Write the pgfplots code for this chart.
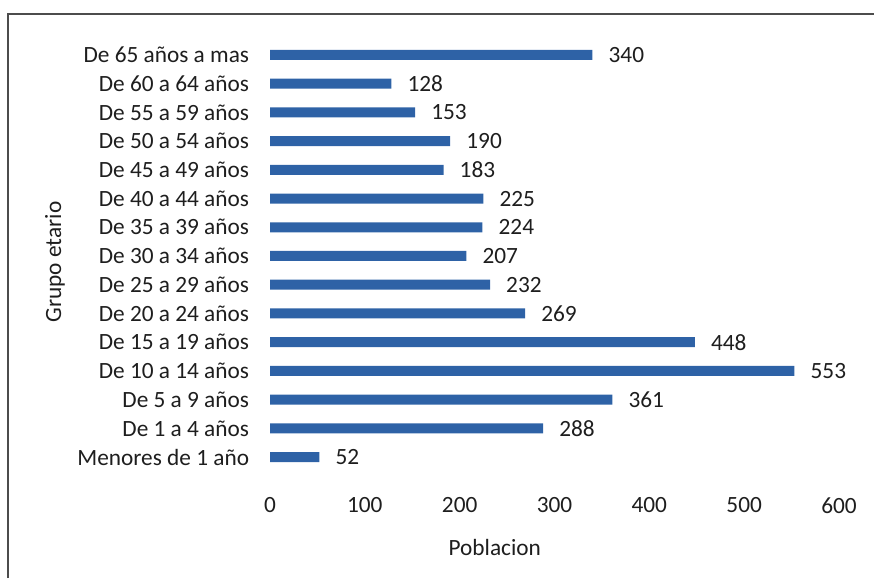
\documentclass[border=0pt]{standalone}
\usepackage{fontspec}
\setmainfont{Carlito}
\usepackage{pgfplots}
\pgfplotsset{compat=1.18}
\definecolor{barblue}{HTML}{2E62A6}
\definecolor{txt}{HTML}{1E1E1E}
\newcommand{\lblfont}{\fontsize{23.3}{27}\selectfont}
\begin{document}
\lblfont
\begin{tikzpicture}[x=1pt,y=1pt]
\useasboundingbox (0,0) rectangle (874,578);
\draw[line width=2pt, black!70] (8,0) -- (8,564) -- (874,564);
\begin{axis}[
  at={(270pt,106.6pt)}, anchor=south west,
  scale only axis, width=569pt, height=430.8pt,
  xbar, bar width=10pt,
  xmin=0, xmax=600, ymin=-0.5, ymax=14.5,
  xtick={0,100,...,600},
  ytick={0,...,14},
  yticklabels={Menores de 1 año, De 1 a 4 años, De 5 a 9 años, De 10 a 14 años,
    De 15 a 19 años, De 20 a 24 años, De 25 a 29 años, De 30 a 34 años,
    De 35 a 39 años, De 40 a 44 años, De 45 a 49 años, De 50 a 54 años,
    De 55 a 59 años, De 60 a 64 años, De 65 años a mas},
  axis line style={draw=none},
  major tick length=0pt,
  tick label style={font=\lblfont, text=txt},
  /pgf/number format/assume math mode=true,
  xticklabel style={yshift=-18pt},
  yticklabel style={xshift=-13pt},
  xlabel={Poblacion}, ylabel={Grupo etario},
  label style={font=\lblfont, text=txt},
  xlabel style={at={(axis description cs:0.395,-0.1755)}, anchor=center},
  ylabel style={at={(axis description cs:-0.378,0.486)}, anchor=center, rotate=0},
  nodes near coords,
  nodes near coords style={anchor=west, inner sep=0pt, xshift=16pt,
    font=\lblfont, text=txt},
  every node near coord/.append style={/pgf/number format/assume math mode=true},
]
\addplot[fill=barblue, draw=none] coordinates {
  (52,0) (288,1) (361,2) (553,3) (448,4) (269,5) (232,6) (207,7)
  (224,8) (225,9) (183,10) (190,11) (153,12) (128,13) (340,14)
};
\end{axis}
\end{tikzpicture}
\end{document}
